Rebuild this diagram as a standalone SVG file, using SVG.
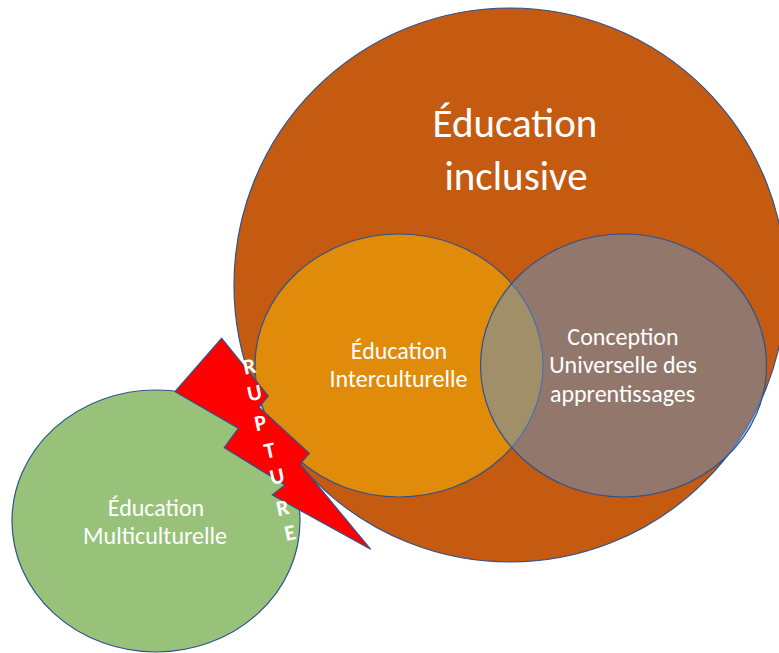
<svg xmlns="http://www.w3.org/2000/svg" width="779" height="653" viewBox="0 0 779 653">
  <style>
    .shape { stroke: #2F528F; stroke-width: 1.2; }
    .lbl { font-family: Carlito, Calibri, "Liberation Sans", Arial, sans-serif; fill: #FFFFFF; text-anchor: middle; }
    .big { font-size: 41px; }
    .mid { font-size: 24px; }
    .rup { font-family: Carlito, Calibri, "Liberation Sans", Arial, sans-serif; font-weight: bold; font-size: 22px; fill: #FFFFFF; text-anchor: middle; }
  </style>
  <rect width="779" height="653" fill="#FFFFFF"/>
  <g id="inclusive">
    <ellipse class="shape" cx="510" cy="285" rx="276" ry="277" fill="#C55A11"/>
    <text class="lbl big" x="515" y="137">Éducation</text>
    <text class="lbl big" x="516" y="190">inclusive</text>
  </g>
  <g id="interculturelle">
    <ellipse class="shape" cx="399" cy="365.5" rx="144" ry="131.5" fill="#E08B0A"/>
  </g>
  <g id="cua">
    <ellipse class="shape" cx="623.5" cy="365.5" rx="143" ry="131.5" fill="#5F94C8" fill-opacity="0.5"/>
  </g>
  <g id="multiculturelle">
    <ellipse class="shape" cx="156" cy="521" rx="144" ry="131" fill="#98C27A"/>
    <text class="lbl mid" x="156" y="516">Éducation</text>
    <text class="lbl mid" x="155" y="543.5">Multiculturelle</text>
  </g>
  <g id="connectors">
    <g id="rupture">
      <polygon class="shape" fill="#FF0000" points="221.7,338.3 268.3,396 259,407.3 309.3,453.3 300,464 370.7,549.3 272.3,495 285,485 224.3,447.7 238.3,428.3 175,391.7"/>
      <text class="rup" transform="translate(250.7,373.5) rotate(-12)">R</text>
      <text class="rup" transform="translate(256,400) rotate(-12)">U</text>
      <text class="rup" transform="translate(262,430) rotate(-12)">P</text>
      <text class="rup" transform="translate(271,457.5) rotate(-12)">T</text>
      <text class="rup" transform="translate(278.5,483.5) rotate(-12)">U</text>
      <text class="rup" transform="translate(284,515) rotate(-12)">R</text>
      <text class="rup" transform="translate(291.5,540) rotate(-12)">E</text>
    </g>
  </g>
  <g id="labels">
    <text class="lbl mid" x="399" y="358.5">Éducation</text>
    <text class="lbl mid" x="398.5" y="386.5">Interculturelle</text>
    <text class="lbl mid" x="623" y="345">Conception</text>
    <text class="lbl mid" x="623" y="373.3">Universelle des</text>
    <text class="lbl mid" x="622.5" y="401.7">apprentissages</text>
  </g>
</svg>
